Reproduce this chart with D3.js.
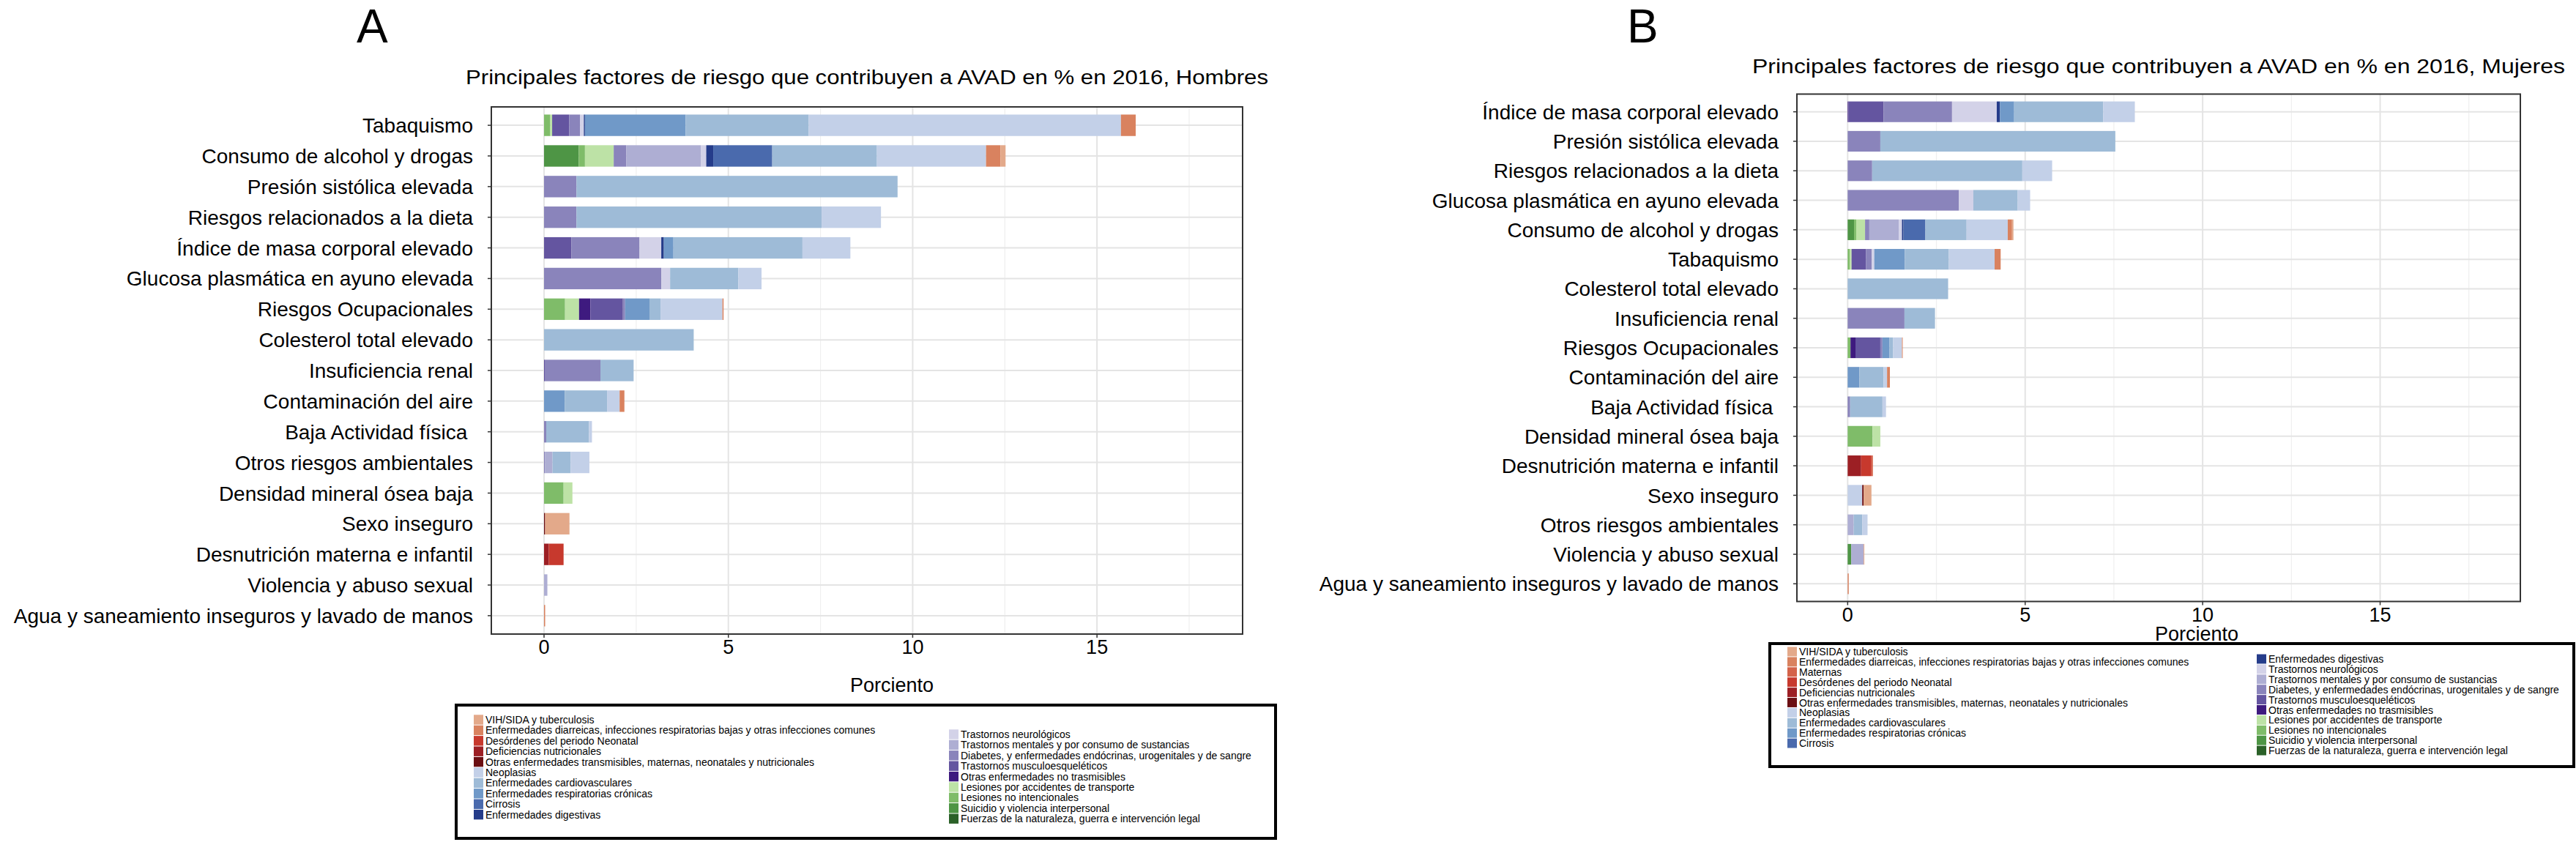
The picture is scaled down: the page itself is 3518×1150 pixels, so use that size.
<!DOCTYPE html>
<html>
<head>
<meta charset="utf-8">
<title>Factores de riesgo AVAD 2016</title>
<script src="https://d3js.org/d3.v7.min.js"></script>
<style>
  body { margin: 0; background: #fff; }
  svg text { font-family: "Liberation Sans", Arial, Helvetica, sans-serif; fill: #000; }
  .grid-major { stroke: #e4e4e4; stroke-width: 2; }
  .grid-minor { stroke: #efefef; stroke-width: 1.2; }
  .frame { fill: none; stroke: #333; stroke-width: 2; }
  .tick-mark { stroke: #333; stroke-width: 1.5; }
  .legend-box { fill: #fff; stroke: #000; stroke-width: 4; }
  .risk-label { font-size: 28px; white-space: pre; }
</style>
</head>
<body>
<svg id="chart" width="3518" height="1150"></svg>
<script>
// causes, in legend order
const causeKeys = ["vih","diar","mat","neo","nut","otrt","neop","cardio","resp","cirr",
                   "dig","neuro","ment","diab","musc","otrnt","trans","noint","suic","fuer"];
const causeNames = [
  "VIH/SIDA y tuberculosis",
  "Enfermedades diarreicas, infecciones respiratorias bajas y otras infecciones comunes",
  "Maternas",
  "Desórdenes del periodo Neonatal",
  "Deficiencias nutricionales",
  "Otras enfermedades transmisibles, maternas, neonatales y nutricionales",
  "Neoplasias",
  "Enfermedades cardiovasculares",
  "Enfermedades respiratorias crónicas",
  "Cirrosis",
  "Enfermedades digestivas",
  "Trastornos neurológicos",
  "Trastornos mentales y por consumo de sustancias",
  "Diabetes, y enfermedades endócrinas, urogenitales y de sangre",
  "Trastornos musculoesqueléticos",
  "Otras enfermedades no trasmisibles",
  "Lesiones por accidentes de transporte",
  "Lesiones no intencionales",
  "Suicidio y violencia interpersonal",
  "Fuerzas de la naturaleza, guerra e intervención legal"
];
const causeColors = ["#e3a98a","#d9825f","#d4634a","#c7392d","#9c1f24","#6b0f13",
                     "#c3d0e8","#9ebbd7","#7099c8","#4a6aad","#253c8a",
                     "#d3d2e8","#aeaed3","#8a84bb","#6455a0","#3e1a7f",
                     "#bde2a6","#7fbc69","#4e9545","#2b6128"];

// Hombres
const menRisks = ["Tabaquismo","Consumo de alcohol y drogas","Presión sistólica elevada",
  "Riesgos relacionados a la dieta","Índice de masa corporal elevado",
  "Glucosa plasmática en ayuno elevada","Riesgos Ocupacionales","Colesterol total elevado",
  "Insuficiencia renal","Contaminación del aire","Baja Actividad física ",
  "Otros riesgos ambientales","Densidad mineral ósea baja","Sexo inseguro",
  "Desnutrición materna e infantil","Violencia y abuso sexual",
  "Agua y saneamiento inseguros y lavado de manos"];
const menValues = [
  {noint:0.17, trans:0.05, musc:0.46, diab:0.30, neuro:0.10, dig:0.03, resp:2.73, cardio:3.34, neop:8.47, diar:0.40},
  {suic:0.94, noint:0.17, trans:0.78, diab:0.34, ment:2.03, neuro:0.14, dig:0.19, cirr:1.60, cardio:2.84, neop:2.96, diar:0.39, vih:0.14},
  {diab:0.88, cardio:8.71},
  {diab:0.88, cardio:6.65, neop:1.61},
  {musc:0.74, diab:1.85, neuro:0.59, dig:0.07, resp:0.26, cardio:3.50, neop:1.30},
  {diab:3.18, neuro:0.24, cardio:1.85, neop:0.63},
  {noint:0.57, trans:0.38, otrnt:0.31, musc:0.88, diab:0.06, resp:0.66, cardio:0.30, neop:1.68, diar:0.03},
  {cardio:4.06},
  {musc:0.02, diab:1.51, cardio:0.90},
  {resp:0.56, cardio:1.15, neop:0.34, diar:0.13},
  {diab:0.06, cardio:1.16, neop:0.08},
  {diab:0.03, ment:0.20, cardio:0.49, neop:0.51},
  {noint:0.53, trans:0.24},
  {otrt:0.03, vih:0.66},
  {nut:0.13, neo:0.40},
  {ment:0.09},
  {diar:0.03}
];

// Mujeres
const womenRisks = ["Índice de masa corporal elevado","Presión sistólica elevada",
  "Riesgos relacionados a la dieta","Glucosa plasmática en ayuno elevada",
  "Consumo de alcohol y drogas","Tabaquismo","Colesterol total elevado","Insuficiencia renal",
  "Riesgos Ocupacionales","Contaminación del aire","Baja Actividad física ",
  "Densidad mineral ósea baja","Desnutrición materna e infantil","Sexo inseguro",
  "Otros riesgos ambientales","Violencia y abuso sexual",
  "Agua y saneamiento inseguros y lavado de manos"];
const womenValues = [
  {otrnt:0.02, musc:0.99, diab:1.93, neuro:1.26, dig:0.09, resp:0.40, cardio:2.51, neop:0.89},
  {diab:0.92, cardio:6.62},
  {diab:0.69, cardio:4.23, neop:0.84},
  {diab:3.13, neuro:0.41, cardio:1.25, neop:0.35},
  {suic:0.18, noint:0.06, trans:0.25, diab:0.12, ment:0.83, neuro:0.09, dig:0.04, cirr:0.62, cardio:1.16, neop:1.16, diar:0.12, vih:0.04},
  {noint:0.06, trans:0.05, musc:0.41, diab:0.16, neuro:0.07, resp:0.86, cardio:1.24, neop:1.29, diar:0.17},
  {cardio:2.83},
  {diab:1.60, cardio:0.86},
  {noint:0.08, otrnt:0.14, musc:0.70, diab:0.06, resp:0.20, cardio:0.10, neop:0.25, diar:0.02},
  {resp:0.33, cardio:0.68, neop:0.10, diar:0.08},
  {diab:0.07, cardio:0.91, neop:0.10},
  {noint:0.70, trans:0.22},
  {nut:0.38, neo:0.29, mat:0.04},
  {neop:0.41, otrt:0.04, vih:0.22},
  {ment:0.17, cardio:0.24, neop:0.15},
  {suic:0.10, ment:0.35, vih:0.02},
  {diar:0.03}
];

const xTicks = [0, 5, 10, 15];
const xMinor = [2.5, 7.5, 12.5, 17.5];
const xDomain = [-1.43, 18.95];

const legendA = [["vih","diar","neo","nut","otrt","neop","cardio","resp","cirr","dig"],
                 ["neuro","ment","diab","musc","otrnt","trans","noint","suic","fuer"]];
const legendB = [["vih","diar","mat","neo","nut","otrt","neop","cardio","resp","cirr"],
                 ["dig","neuro","ment","diab","musc","otrnt","trans","noint","suic","fuer"]];

const svg = d3.select("#chart");
const color = d3.scaleOrdinal().domain(causeKeys).range(causeColors);
// ggplot stacks in reverse legend order
const stackKeys = causeKeys.slice().reverse();

function drawPanel(p) {
  const g = svg.append("g");
  const x = d3.scaleLinear().domain(xDomain).range([p.left, p.right]);
  const y = d3.scalePoint().domain(p.risks).range([p.top, p.bottom]).padding(0.6);
  const barH = y.step() * 0.7;

  // grid
  g.selectAll(".gmin").data(xMinor).enter().append("line")
    .attr("class", "grid-minor")
    .attr("x1", d => x(d)).attr("x2", d => x(d))
    .attr("y1", p.top).attr("y2", p.bottom);
  g.selectAll(".gmaj").data(xTicks).enter().append("line")
    .attr("class", "grid-major")
    .attr("x1", d => x(d)).attr("x2", d => x(d))
    .attr("y1", p.top).attr("y2", p.bottom);
  g.selectAll(".gy").data(p.risks).enter().append("line")
    .attr("class", "grid-major")
    .attr("x1", p.left).attr("x2", p.right)
    .attr("y1", d => y(d)).attr("y2", d => y(d));

  // stacked bars
  const rows = p.values.map((v, i) => Object.assign({risk: p.risks[i]}, v));
  const series = d3.stack().keys(stackKeys).value((d, k) => d[k] || 0)(rows);
  g.selectAll(".layer").data(series).enter().append("g")
    .attr("fill", d => color(d.key))
    .selectAll("rect").data(d => d.filter(s => s[1] - s[0] > 0)).enter().append("rect")
    .attr("x", d => x(d[0]))
    .attr("width", d => x(d[1]) - x(d[0]))
    .attr("y", d => y(d.data.risk) - barH / 2)
    .attr("height", barH);

  g.append("rect").attr("class", "frame")
    .attr("x", p.left).attr("y", p.top)
    .attr("width", p.right - p.left).attr("height", p.bottom - p.top);

  // y axis
  g.selectAll(".yt").data(p.risks).enter().append("line")
    .attr("class", "tick-mark")
    .attr("x1", p.left - 5).attr("x2", p.left)
    .attr("y1", d => y(d)).attr("y2", d => y(d));
  g.selectAll(".yl").data(p.risks).enter().append("text")
    .attr("class", "risk-label")
    .attr("x", p.left - 25).attr("y", d => y(d))
    .attr("dy", "0.36em").attr("text-anchor", "end")
    .text(d => d);

  // x axis
  g.selectAll(".xt").data(xTicks).enter().append("line")
    .attr("class", "tick-mark")
    .attr("x1", d => x(d)).attr("x2", d => x(d))
    .attr("y1", p.bottom).attr("y2", p.bottom + 5);
  g.selectAll(".xl").data(xTicks).enter().append("text")
    .attr("x", d => x(d)).attr("y", p.bottom + 27)
    .attr("text-anchor", "middle").style("font-size", "27px")
    .text(d => d);
  g.append("text")
    .attr("x", p.xTitleX).attr("y", p.xTitleY)
    .attr("text-anchor", "middle").style("font-size", "27px")
    .text("Porciento");

  // titles
  g.append("text")
    .attr("x", (p.left + p.right) / 2).attr("y", p.titleY)
    .attr("text-anchor", "middle").style("font-size", "27px")
    .attr("textLength", p.titleW).attr("lengthAdjust", "spacingAndGlyphs")
    .text(p.title);
  g.append("text")
    .attr("x", p.letterX).attr("y", 58)
    .style("font-size", "64px")
    .text(p.letter);

  // legend
  const lg = p.legend;
  g.append("rect").attr("class", "legend-box")
    .attr("x", lg.x).attr("y", lg.y).attr("width", lg.w).attr("height", lg.h);
  lg.cols.forEach((keys, ci) => {
    const col = g.append("g");
    const items = col.selectAll("g").data(keys).enter().append("g")
      .attr("transform", (d, i) => `translate(${lg.colX[ci]},${lg.rowY[ci] + i * lg.step})`);
    items.append("rect")
      .attr("x", 0).attr("y", -lg.step / 2 + 0.5)
      .attr("width", 13).attr("height", lg.step - 1)
      .attr("fill", d => color(d));
    items.append("text")
      .attr("x", 16).attr("dy", "0.36em")
      .style("font-size", "14px")
      .text(d => causeNames[causeKeys.indexOf(d)]);
  });
}

drawPanel({
  risks: menRisks, values: menValues,
  left: 671, right: 1697, top: 146, bottom: 866,
  xTitleX: 1218, xTitleY: 945, titleY: 115, titleW: 1096,
  title: "Principales factores de riesgo que contribuyen a AVAD en % en 2016, Hombres",
  letter: "A", letterX: 487,
  legend: {x: 623, y: 963, w: 1119, h: 182, step: 14.4,
           colX: [647, 1296], rowY: [983, 1003], cols: legendA}
});

drawPanel({
  risks: womenRisks, values: womenValues,
  left: 2454, right: 3442, top: 128.5, bottom: 821.5,
  xTitleX: 3000, xTitleY: 875, titleY: 100, titleW: 1110,
  title: "Principales factores de riesgo que contribuyen a AVAD en % en 2016, Mujeres",
  letter: "B", letterX: 2222,
  legend: {x: 2417, y: 879, w: 1098, h: 168, step: 13.9,
           colX: [2441, 3082], rowY: [890, 900], cols: legendB}
});
</script>
</body>
</html>
